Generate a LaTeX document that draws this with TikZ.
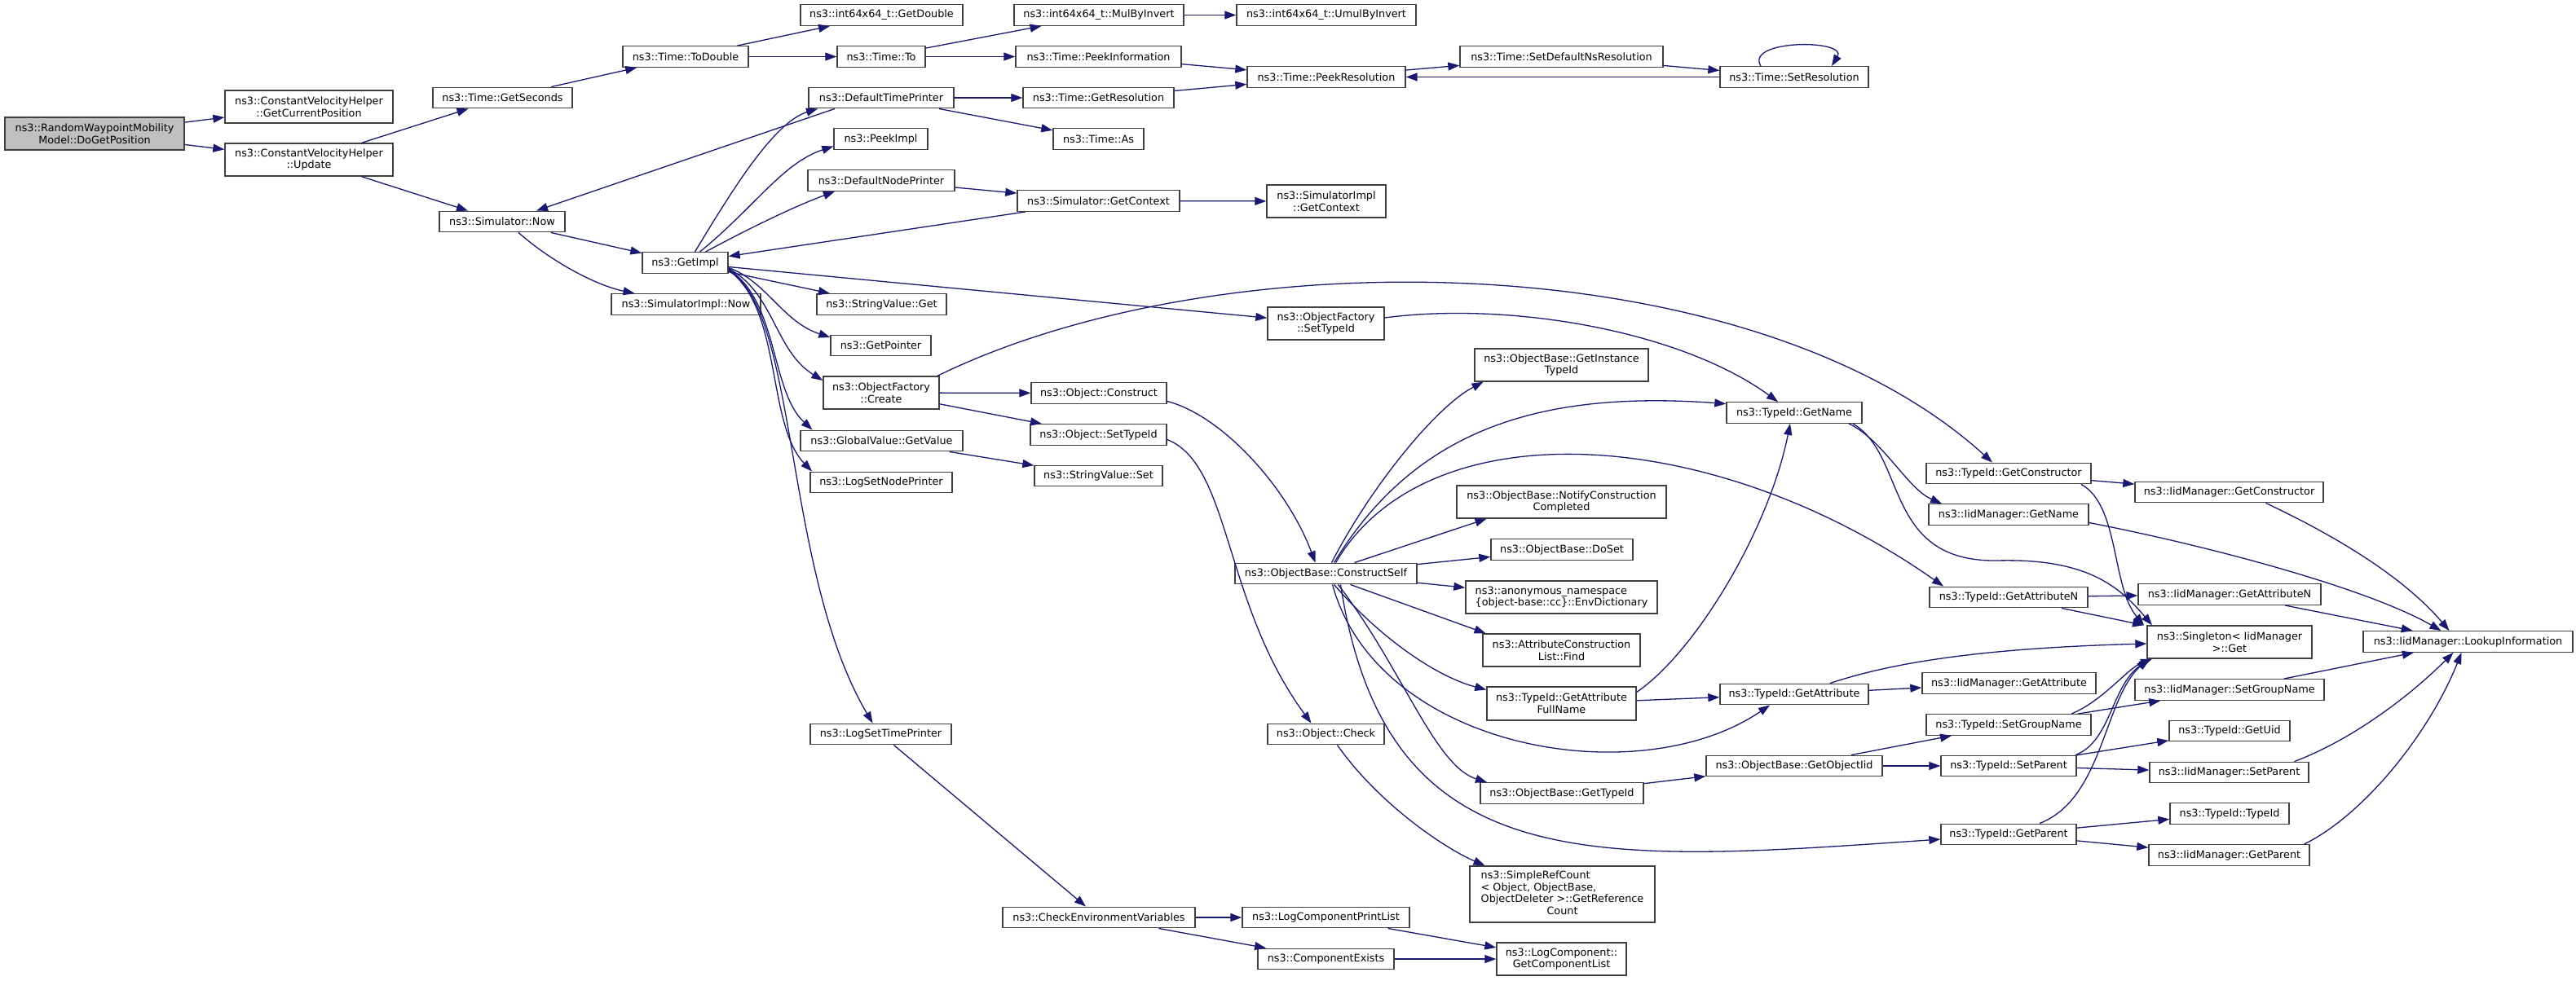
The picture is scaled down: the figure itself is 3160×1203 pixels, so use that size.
\documentclass[tikz,border=0pt]{standalone}
\usepackage{fontspec}
\setmainfont{DejaVu Sans}
\usetikzlibrary{arrows.meta}
\definecolor{edgec}{HTML}{191970}
\definecolor{boxc}{HTML}{404040}
\definecolor{rootfill}{HTML}{BFBFBF}
\tikzset{
  box/.style={draw=boxc, fill=white, line width=1.4pt, inner sep=1pt, minimum height=25.5pt,
    align=center, font=\fontsize{12.8}{14.7}\selectfont},
  call/.style={draw=edgec, line width=1.3pt, -{Triangle[length=14pt,width=10pt]}},
}
\begin{document}
\begin{tikzpicture}[x=1pt,y=-1pt]
\useasboundingbox (0,0) rectangle (3160,1203);
\fill[white] (0,0) rectangle (3160,1203);
% nodes
\node[box,fill=rootfill,minimum width=220pt,minimum height=40pt] (root) at (116,164) {ns3::RandomWaypointMobility\\Model::DoGetPosition};
\node[box,minimum width=206pt,minimum height=40pt] (gcp) at (379,131) {ns3::ConstantVelocityHelper\\::GetCurrentPosition};
\node[box,minimum width=206pt,minimum height=40pt] (upd) at (379,196) {ns3::ConstantVelocityHelper\\::Update};
\node[box,minimum width=171pt] (gsec) at (616.5,120) {ns3::Time::GetSeconds};
\node[box,minimum width=154pt] (snow) at (616,272) {ns3::Simulator::Now};
\node[box,minimum width=154pt] (todbl) at (841,69.5) {ns3::Time::ToDouble};
\node[box,minimum width=105pt] (getimpl) at (840.5,322.5) {ns3::GetImpl};
\node[box,minimum width=183pt] (siminow) at (841.5,373.5) {ns3::SimulatorImpl::Now};
\node[box,minimum width=199pt] (getdbl) at (1081.5,18.5) {ns3::int64x64\_t::GetDouble};
\node[box,minimum width=108pt] (timeto) at (1081,69.5) {ns3::Time::To};
\node[box,minimum width=178pt] (dtp) at (1081,120) {ns3::DefaultTimePrinter};
\node[box,minimum width=115pt] (peekimpl) at (1080.5,170.5) {ns3::PeekImpl};
\node[box,minimum width=180pt] (dnp) at (1081,221.5) {ns3::DefaultNodePrinter};
\node[box,minimum width=159pt] (svget) at (1081.5,373.5) {ns3::StringValue::Get};
\node[box,minimum width=123pt] (getptr) at (1080.5,424) {ns3::GetPointer};
\node[box,minimum width=142pt,minimum height=40pt] (ofcreate) at (1081,482) {ns3::ObjectFactory\\::Create};
\node[box,minimum width=199pt] (gvget) at (1081.5,541) {ns3::GlobalValue::GetValue};
\node[box,minimum width=174pt] (lsnp) at (1081,592) {ns3::LogSetNodePrinter};
\node[box,minimum width=173pt] (lstp) at (1080.5,901) {ns3::LogSetTimePrinter};
\node[box,minimum width=208pt] (mulinv) at (1348,18.5) {ns3::int64x64\_t::MulByInvert};
\node[box,minimum width=203pt] (peekinfo) at (1347.5,69.5) {ns3::Time::PeekInformation};
\node[box,minimum width=185pt] (getres) at (1347.5,120) {ns3::Time::GetResolution};
\node[box,minimum width=111pt] (timeas) at (1347.5,170.5) {ns3::Time::As};
\node[box,minimum width=199pt] (sgctx) at (1347.5,246.5) {ns3::Simulator::GetContext};
\node[box,minimum width=166pt] (objcons) at (1348,482.5) {ns3::Object::Construct};
\node[box,minimum width=167pt] (objsettid) at (1347.5,533.5) {ns3::Object::SetTypeId};
\node[box,minimum width=157pt] (svset) at (1347.5,584) {ns3::StringValue::Set};
\node[box,minimum width=236pt] (cev) at (1348,1126) {ns3::CheckEnvironmentVariables};
\node[box,minimum width=220pt] (umul) at (1627,18.5) {ns3::int64x64\_t::UmulByInvert};
\node[box,minimum width=194pt] (peekres) at (1627,94.5) {ns3::Time::PeekResolution};
\node[box,minimum width=146pt,minimum height=40pt] (sictx) at (1627,247) {ns3::SimulatorImpl\\::GetContext};
\node[box,minimum width=143pt,minimum height=40pt] (ofsettid) at (1626.5,397) {ns3::ObjectFactory\\::SetTypeId};
\node[box,minimum width=223pt] (cself) at (1626.5,704) {ns3::ObjectBase::ConstructSelf};
\node[box,minimum width=143pt] (objcheck) at (1626.5,901) {ns3::Object::Check};
\node[box,minimum width=205pt] (lcpl) at (1626.5,1126) {ns3::LogComponentPrintList};
\node[box,minimum width=167pt] (cexists) at (1626.5,1177) {ns3::ComponentExists};
\node[box,minimum width=249pt] (setdefns) at (1915.5,69.5) {ns3::Time::SetDefaultNsResolution};
\node[box,minimum width=213pt,minimum height=40pt] (getinst) at (1915.5,448) {ns3::ObjectBase::GetInstance\\TypeId};
\node[box,minimum width=257pt,minimum height=40pt] (notify) at (1915.5,616) {ns3::ObjectBase::NotifyConstruction\\Completed};
\node[box,minimum width=174pt] (doset) at (1916,674.5) {ns3::ObjectBase::DoSet};
\node[box,minimum width=235pt,minimum height=40pt,align=left] (envdict) at (1915.5,733) {ns3::anonymous\_namespace\\\{object-base::cc\}::EnvDictionary};
\node[box,minimum width=193pt,minimum height=40pt] (acfind) at (1915.5,798) {ns3::AttributeConstruction\\List::Find};
\node[box,minimum width=183pt,minimum height=41pt] (gafull) at (1915.5,863.5) {ns3::TypeId::GetAttribute\\FullName};
\node[box,minimum width=200pt] (obgettid) at (1916,973.5) {ns3::ObjectBase::GetTypeId};
\node[box,minimum width=227pt,minimum height=69pt] (simpleref) at (1916.5,1097.5) {\begin{tabular}{@{}l@{}}ns3::SimpleRefCount\\< Object, ObjectBase,\\ ObjectDeleter >::GetReference\\\multicolumn{1}{@{}c@{}}{Count}\end{tabular}};
\node[box,minimum width=159pt,minimum height=40pt] (lcgcl) at (1915.5,1177) {ns3::LogComponent::\\GetComponentList};
\node[box,minimum width=182pt] (setres) at (2201,94.5) {ns3::Time::SetResolution};
\node[box,minimum width=166pt] (tgetname) at (2201,506.5) {ns3::TypeId::GetName};
\node[box,minimum width=182pt] (tgetattr) at (2201,852) {ns3::TypeId::GetAttribute};
\node[box,minimum width=216pt] (getoiid) at (2201,940) {ns3::ObjectBase::GetObjectIid};
\node[box,minimum width=202pt] (tgetctor) at (2464,581) {ns3::TypeId::GetConstructor};
\node[box,minimum width=196pt] (igetname) at (2464,631.5) {ns3::IidManager::GetName};
\node[box,minimum width=194pt] (tgetattrn) at (2464,733) {ns3::TypeId::GetAttributeN};
\node[box,minimum width=213pt] (igetattr) at (2464.5,838.5) {ns3::IidManager::GetAttribute};
\node[box,minimum width=202pt] (tsetgrp) at (2464,889.5) {ns3::TypeId::SetGroupName};
\node[box,minimum width=166pt] (tsetpar) at (2464,940) {ns3::TypeId::SetParent};
\node[box,minimum width=166pt] (tgetpar) at (2464,1024) {ns3::TypeId::GetParent};
\node[box,minimum width=231pt] (igetctor) at (2734.5,604) {ns3::IidManager::GetConstructor};
\node[box,minimum width=224pt] (igetattrn) at (2735,729.5) {ns3::IidManager::GetAttributeN};
\node[box,minimum width=202pt,minimum height=40pt] (singleton) at (2735,788) {ns3::Singleton< IidManager\\>::Get};
\node[box,minimum width=232pt] (isetgrp) at (2735,846.5) {ns3::IidManager::SetGroupName};
\node[box,minimum width=148pt] (tgetuid) at (2735,897) {ns3::TypeId::GetUid};
\node[box,minimum width=195pt] (isetpar) at (2734.5,948) {ns3::IidManager::SetParent};
\node[box,minimum width=146pt] (ttypeid) at (2735,998.5) {ns3::TypeId::TypeId};
\node[box,minimum width=197pt] (igetpar) at (2734.5,1049.5) {ns3::IidManager::GetParent};
\node[box,minimum width=257pt] (lookup) at (3027.5,787.5) {ns3::IidManager::LookupInformation};
% straight edges
\draw[call] (root) -- (gcp);
\draw[call] (root) -- (upd);
\draw[call] (upd) -- (gsec);
\draw[call] (upd) -- (snow);
\draw[call] (gsec) -- (todbl);
\draw[call] (todbl) -- (getdbl);
\draw[call] (todbl) -- (timeto);
\draw[call] (timeto) -- (mulinv);
\draw[call] (timeto) -- (peekinfo);
\draw[call] (mulinv) -- (umul);
\draw[call] (peekinfo) -- (peekres);
\draw[call] (getres) -- (peekres);
\draw[call] (peekres) -- (setdefns);
\draw[call] (setdefns) -- (setres);
\draw[call] (setres) -- (peekres);
\draw[call] ([xshift=-41pt]setres.north) .. controls +(-20,-33) and +(20,-33) .. ([xshift=46pt]setres.north);
\draw[call] (dtp) -- (getres);
\draw[call] (dtp) -- (timeas);
\draw[call] ([xshift=-57pt]dtp.south) -- ([xshift=42pt]snow.north);
\draw[call] (snow) -- (getimpl);
\draw[call] ([xshift=20pt]snow.south) .. controls (675,320) and (730,350) .. ([xshift=-63pt]siminow.north);
\draw[call] ([xshift=12pt]getimpl.north) .. controls (900,230) and (950,150) .. ([xshift=-78pt]dtp.south);
\draw[call] ([xshift=18pt]getimpl.north) .. controls (925,255) and (960,200) .. ([yshift=-9pt]peekimpl.west);
\draw[call] ([xshift=25pt]getimpl.north) .. controls (910,285) and (970,255) .. ([xshift=-57pt]dnp.south);
\draw[call] (dnp) -- (sgctx);
\draw[call] (sgctx) -- (getimpl);
\draw[call] (sgctx) -- (sictx);
\draw[call] (getimpl) -- (svget);
\draw[call] (getimpl) -- (ofsettid);
\draw[call] ([yshift=-6pt]getimpl.east) .. controls (940,345) and (960,395) .. ([yshift=10pt]getptr.west);
\draw[call] ([yshift=-7pt]getimpl.east) .. controls (950,360) and (950,430) .. ([yshift=15pt]ofcreate.west);
\draw[call] ([yshift=-8pt]getimpl.east) .. controls (955,370) and (945,480) .. ([xshift=-85pt]gvget.north);
\draw[call] ([yshift=-9pt]getimpl.east) .. controls (960,380) and (940,520) .. ([xshift=-85pt]lsnp.north);
\draw[call] ([yshift=-10pt]getimpl.east) .. controls (980,380) and (960,700) .. ([xshift=-10pt]lstp.north);
\draw[call] (gvget) -- (svset);
\draw[call] (ofcreate) -- (objcons);
\draw[call] (ofcreate) -- (objsettid);
\draw[call] ([xshift=69pt]ofcreate.north) .. controls (1500,290) and (2150,300) .. ([xshift=-20pt]tgetctor.north);
\draw[call] ([yshift=7pt]ofsettid.east) .. controls (1850,370) and (2060,405) .. ([xshift=-20pt]tgetname.north);
\draw[call] (lstp) -- (cev);
\draw[call] (cev) -- (lcpl);
\draw[call] (cev) -- (cexists);
\draw[call] (lcpl) -- (lcgcl);
\draw[call] (cexists) -- (lcgcl);
\draw[call] ([yshift=-10pt]objcons.east) .. controls (1500,510) and (1580,600) .. ([xshift=-13pt]cself.north);
\draw[call] ([yshift=-6pt]objsettid.east) .. controls (1510,570) and (1500,740) .. ([xshift=-18pt]objcheck.north);
\draw[call] ([xshift=14pt]objcheck.south) .. controls (1690,985) and (1770,1040) .. ([xshift=-95pt]simpleref.north);
% ConstructSelf
\draw[call] ([xshift=7pt]cself.north) .. controls (1680,600) and (1760,500) .. ([xshift=-96pt]getinst.south);
\draw[call] ([xshift=10pt]cself.north) .. controls (1740,520) and (1900,480) .. ([yshift=11pt]tgetname.west);
\draw[call] ([xshift=12pt]cself.north) .. controls (1750,500) and (2100,520) .. ([xshift=-80pt]tgetattrn.north);
\draw[call] ([xshift=35pt]cself.north) -- ([xshift=-92pt]notify.south);
\draw[call] (cself) -- (doset);
\draw[call] (cself) -- (envdict);
\draw[call] ([xshift=30pt]cself.south) -- ([xshift=-93pt]acfind.north);
\draw[call] ([xshift=10pt]cself.south) .. controls (1690,780) and (1760,830) .. ([yshift=17pt]gafull.west);
\draw[call] ([xshift=8pt]cself.south) .. controls (1690,920) and (2010,975) .. ([xshift=-30pt]tgetattr.south);
\draw[call] ([xshift=15pt]cself.south) .. controls (1720,820) and (1760,940) .. ([xshift=-92pt]obgettid.north);
\draw[call] ([xshift=18pt]cself.south) .. controls (1700,1080) and (1950,1060) .. ([yshift=-6pt]tgetpar.west);
% TypeId section
\draw[call] ([yshift=14pt]gafull.east) .. controls (2080,800) and (2170,650) .. ([xshift=-5pt]tgetname.south);
\draw[call] (gafull) -- (tgetattr);
\draw[call] (tgetattr) -- (igetattr);
\draw[call] ([xshift=44pt]tgetattr.north) .. controls (2330,810) and (2450,795) .. ([yshift=-2pt]singleton.west);
\draw[call] (obgettid) -- (getoiid);
\draw[call] (getoiid) -- (tsetgrp);
\draw[call] (getoiid) -- (tsetpar);
\draw[call] ([xshift=67pt]tgetname.south) .. controls (2310,540) and (2340,600) .. ([xshift=-82pt]igetname.north);
\draw[call] ([xshift=72pt]tgetname.south) .. controls (2340,560) and (2310,690) .. (2450,688) .. controls (2560,685) and (2600,720) .. ([xshift=-95pt]singleton.north);
\draw[call] (tgetctor) -- (igetctor);
\draw[call] ([xshift=89pt]tgetctor.south) .. controls (2600,620) and (2590,720) .. ([xshift=-105pt]singleton.north);
\draw[call] ([xshift=45pt]igetctor.south) .. controls (2870,660) and (2950,710) .. ([xshift=-23pt]lookup.north);
\draw[call] ([yshift=-10pt]igetname.east) .. controls (2700,668) and (2900,720) .. ([xshift=-33pt]lookup.north);
\draw[call] (tgetattrn) -- (igetattrn);
\draw[call] ([xshift=65pt]tgetattrn.south) -- ([xshift=-105pt]singleton.north);
\draw[call] (igetattrn) -- (lookup);
\draw[call] ([xshift=77pt]tsetgrp.north) .. controls (2580,860) and (2610,820) .. ([xshift=-95pt]singleton.south);
\draw[call] (tsetgrp) -- (isetgrp);
\draw[call] (isetgrp) -- (lookup);
\draw[call] ([xshift=82pt]tsetpar.north) .. controls (2590,910) and (2590,840) .. ([xshift=-97pt]singleton.south);
\draw[call] (tsetpar) -- (tgetuid);
\draw[call] (tsetpar) -- (isetpar);
\draw[call] ([xshift=80pt]isetpar.north) .. controls (2880,910) and (2950,860) .. ([xshift=-18pt]lookup.south);
\draw[call] ([xshift=38pt]tgetpar.north) .. controls (2580,980) and (2580,860) .. ([xshift=-100pt]singleton.south);
\draw[call] (tgetpar) -- (ttypeid);
\draw[call] (tgetpar) -- (igetpar);
\draw[call] ([xshift=92pt]igetpar.north) .. controls (2900,1000) and (2980,900) .. ([xshift=-8pt]lookup.south);
\end{tikzpicture}
\end{document}
